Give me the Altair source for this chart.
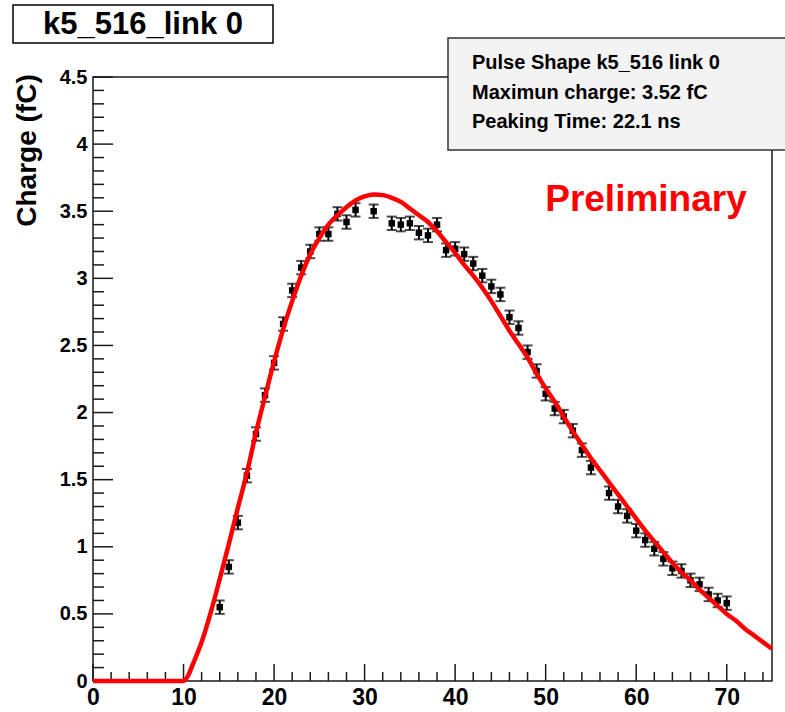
import altair as alt
import pandas as pd

# Measured pulse amplitude per delay step
time_ns = [14, 15, 16, 17, 18, 19, 20, 21, 22, 23, 24, 25, 26, 27, 28, 29, 31,
           33, 34, 35, 36, 37, 38, 39, 40, 41, 42, 43, 44, 45, 46, 47, 48, 49,
           50, 51, 52, 53, 54, 55, 57, 58, 59, 60, 61, 62, 63, 64, 65, 66, 67,
           68, 69, 70]
charge_fc = [0.55, 0.85, 1.18, 1.53, 1.84, 2.13, 2.37, 2.66, 2.91, 3.08, 3.20,
             3.33, 3.33, 3.48, 3.42, 3.51, 3.50, 3.41, 3.40, 3.41, 3.34, 3.32,
             3.40, 3.21, 3.22, 3.18, 3.11, 3.02, 2.94, 2.88, 2.71, 2.63, 2.45,
             2.31, 2.14, 2.03, 1.97, 1.865, 1.72, 1.59, 1.40, 1.30, 1.23, 1.12,
             1.05, 0.985, 0.91, 0.84, 0.82, 0.75, 0.72, 0.645, 0.60, 0.58]
charge_err = [0.05] * len(time_ns)

# Fitted pulse shape
fit_t = [0, 5, 10, 10.5, 11, 12, 13, 14, 15, 16, 17, 18, 19, 20, 21, 22, 23,
         24, 25, 26, 27, 28, 29, 30, 31, 32, 33, 34, 35, 36, 37, 38, 39, 40,
         41, 42, 43, 44, 45, 46, 47, 48, 49, 50, 51, 52, 53, 54, 55, 56, 57,
         58, 59, 60, 61, 62, 63, 64, 65, 66, 67, 68, 69, 70, 71, 72, 73, 74, 75]
fit_q = [0, 0, 0, 0.04, 0.12, 0.29, 0.51, 0.76, 1.02, 1.29, 1.55, 1.85, 2.12,
         2.38, 2.62, 2.83, 3.02, 3.18, 3.30, 3.40, 3.47, 3.53, 3.58, 3.61,
         3.625, 3.62, 3.60, 3.57, 3.52, 3.47, 3.42, 3.35, 3.27, 3.19, 3.10,
         3.02, 2.93, 2.83, 2.72, 2.61, 2.51, 2.41, 2.29, 2.18, 2.08, 1.97,
         1.86, 1.76, 1.66, 1.57, 1.48, 1.39, 1.30, 1.21, 1.12, 1.04, 0.96,
         0.88, 0.81, 0.75, 0.68, 0.62, 0.56, 0.50, 0.45, 0.39, 0.34, 0.29, 0.24]

x_major = [0, 10, 20, 30, 40, 50, 60, 70]
x_minor = [v for v in range(0, 76, 2) if v % 10]
y_major = [0, 0.5, 1, 1.5, 2, 2.5, 3, 3.5, 4, 4.5]
y_minor = [round(i * 0.1, 1) for i in range(46) if i % 5]

title_text = "k5_516_link 0"
stats_lines = ["Pulse Shape k5_516 link 0",
               "Maximun charge:  3.52 fC",
               "Peaking Time: 22.1 ns"]
watermark = "Preliminary"

W, H = 679, 604
FONT = "Liberation Sans"
INK = "#1a1a1a"

xs = alt.Scale(domain=[0, 75], nice=False, zero=False)
ys = alt.Scale(domain=[0, 4.5], nice=False, zero=False)

pts = pd.DataFrame({"x": time_ns, "y": charge_fc})
pts["lo"] = [c - e for c, e in zip(charge_fc, charge_err)]
pts["hi"] = [c + e for c, e in zip(charge_fc, charge_err)]
fit = pd.DataFrame({"x": fit_t, "y": fit_q})
one = pd.DataFrame({"k": [0]})

# the same axis definitions are shared by every layer so they merge cleanly
x_axis = alt.Axis(values=x_major, format="d", labelFont=FONT, labelFontSize=23,
                  labelFontWeight="bold", labelColor="black", ticks=False,
                  domain=False, grid=False, labelPadding=5,
                  labelFlush=False, labelOverlap=False, title=None)
y_axis = alt.Axis(values=y_major, format="~g", labelFont=FONT, labelFontSize=20,
                  labelFontWeight="bold", labelColor="black", ticks=False,
                  domain=False, grid=False, labelPadding=6,
                  labelFlush=False, labelOverlap=False, labelBaseline="middle",
                  title="Charge (fC)", titleFont=FONT, titleFontSize=28,
                  titleFontWeight="bold", titleColor="black", titleX=-66,
                  titleY=73, titleAngle=270, titleAlign="center",
                  titleBaseline="middle")


def X(field):
    return alt.X(f"{field}:Q", scale=xs, axis=x_axis)


def Y(field):
    return alt.Y(f"{field}:Q", scale=ys, axis=y_axis)


# plot frame
frame = alt.Chart(one).mark_rect(fill=None, stroke=INK, strokeWidth=1.5).encode(
    x=alt.value(0), x2=alt.value(W), y=alt.value(0), y2=alt.value(H))


# inward-pointing ticks
def xticks(vals, length):
    return alt.Chart(pd.DataFrame({"x": vals})).mark_rule(
        color=INK, strokeWidth=1.5).encode(
        x=X("x"), y=alt.value(H), y2=alt.value(H - length))


def yticks(vals, length):
    return alt.Chart(pd.DataFrame({"y": vals})).mark_rule(
        color=INK, strokeWidth=1.5).encode(
        y=Y("y"), x=alt.value(0), x2=alt.value(length))


curve = alt.Chart(fit).mark_line(color="#ff0000", strokeWidth=4.5,
                                 interpolate="monotone").encode(
    x=X("x"), y=Y("y"))

bars = alt.Chart(pts).mark_rule(color="black", strokeWidth=2).encode(
    x=X("x"), y=Y("lo"), y2="hi:Q")

caps_lo = alt.Chart(pts).mark_tick(orient="horizontal", size=10, thickness=2,
                                   color="black").encode(x=X("x"), y=Y("lo"))
caps_hi = alt.Chart(pts).mark_tick(orient="horizontal", size=10, thickness=2,
                                   color="black").encode(x=X("x"), y=Y("hi"))

markers = alt.Chart(pts).mark_square(size=42, color="black", opacity=1).encode(
    x=X("x"), y=Y("y"))

prelim = alt.Chart(one).mark_text(font=FONT, fontSize=37, fontWeight="bold",
                                  color="#ff0000", align="center",
                                  baseline="middle").encode(
    x=alt.value(553), y=alt.value(123), text=alt.value(watermark))

# statistics box
stats_box = alt.Chart(one).mark_rect(fill="#f3f3f3", stroke="#333333",
                                     strokeWidth=1.5).encode(
    x=alt.value(355), x2=alt.value(720), y=alt.value(-39), y2=alt.value(73))
stats_text = [
    alt.Chart(one).mark_text(font=FONT, fontSize=20, fontWeight="bold",
                             color="black", align="left",
                             baseline="middle").encode(
        x=alt.value(379), y=alt.value(-14 + 29.5 * i), text=alt.value(line))
    for i, line in enumerate(stats_lines)
]

# title box
title_box = alt.Chart(one).mark_rect(fill="white", stroke="black",
                                     strokeWidth=1.5).encode(
    x=alt.value(-80), x2=alt.value(180), y=alt.value(-72), y2=alt.value(-34))
title = alt.Chart(one).mark_text(font=FONT, fontSize=31, fontWeight="bold",
                                 color="black", align="center",
                                 baseline="middle").encode(
    x=alt.value(50), y=alt.value(-52), text=alt.value(title_text))

chart = alt.layer(
    frame,
    xticks(x_major, 17), xticks(x_minor, 9),
    yticks(y_major, 20), yticks(y_minor, 11),
    bars, caps_lo, caps_hi, markers, curve,
    prelim, stats_box, *stats_text, title_box, title,
).properties(
    width=W, height=H,
    padding={"left": 93, "top": 77, "right": 13, "bottom": 31},
    autosize=alt.AutoSizeParams(type="none"),
    background="white",
).configure_view(stroke=None)

chart.save("out.html", embed_options={"renderer": "svg", "actions": False})
